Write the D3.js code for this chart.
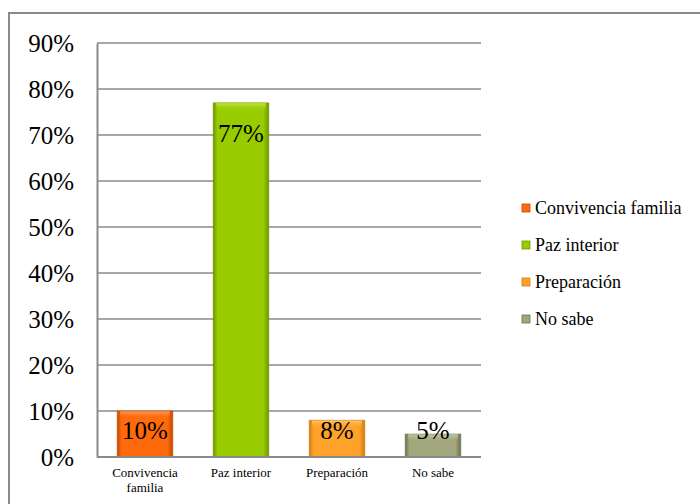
<!DOCTYPE html>
<html>
<head>
<meta charset="utf-8">
<script src="https://cdn.jsdelivr.net/npm/d3@7"></script>
<style>
  html, body { margin: 0; padding: 0; background: #fff; }
  svg { display: block; }
</style>
</head>
<body>
<svg id="chart" width="700" height="504"></svg>
<script>
// Categories and their shares
const categories = ["Convivencia familia", "Paz interior", "Preparación", "No sabe"];
const axisLabels = [["Convivencia", "familia"], ["Paz interior"], ["Preparación"], ["No sabe"]];
const values = [0.10, 0.77, 0.08, 0.05];
const valueLabels = ["10%", "77%", "8%", "5%"];
const yTicks = [0, 0.1, 0.2, 0.3, 0.4, 0.5, 0.6, 0.7, 0.8, 0.9];
const fills = ["#FF6A0C", "#99CC00", "#FFA22A", "#A2A67C"];
const edges = ["#C44A00", "#6E9600", "#D07A10", "#6E7250"];
const tops  = ["#FF9A5A", "#C2E84A", "#FFC870", "#C8CCA6"];

const SERIF = "'Liberation Serif', 'Times New Roman', serif";
const svg = d3.select("#chart");
const W = 700, H = 504;

// outer frame
svg.append("rect")
  .attr("x", 9).attr("y", 13)
  .attr("width", W + 10).attr("height", H + 10)
  .attr("fill", "#fff").attr("stroke", "#8a8a8a").attr("stroke-width", 2);

const plot = { left: 97, right: 481, top: 43, bottom: 457 };

const x = d3.scaleBand().domain(categories)
  .range([plot.left, plot.right]).paddingInner(0.42).paddingOuter(0.21);
const y = d3.scaleLinear().domain([0, 0.9]).range([plot.bottom, plot.top]);

// gradients for bevelled bars
const defs = svg.append("defs");
categories.forEach((c, i) => {
  const g = defs.append("linearGradient").attr("id", "side" + i)
    .attr("x1", 0).attr("x2", 1).attr("y1", 0).attr("y2", 0);
  g.append("stop").attr("offset", 0).attr("stop-color", edges[i]);
  g.append("stop").attr("offset", 0.08).attr("stop-color", fills[i]);
  g.append("stop").attr("offset", 0.9).attr("stop-color", fills[i]);
  g.append("stop").attr("offset", 1).attr("stop-color", edges[i]);
  const t = defs.append("linearGradient").attr("id", "top" + i)
    .attr("x1", 0).attr("x2", 0).attr("y1", 0).attr("y2", 1);
  t.append("stop").attr("offset", 0).attr("stop-color", tops[i]).attr("stop-opacity", 1);
  t.append("stop").attr("offset", 1).attr("stop-color", fills[i]).attr("stop-opacity", 0);
});

// gridlines
svg.append("g").selectAll("line").data(yTicks.slice(1)).join("line")
  .attr("x1", plot.left).attr("x2", plot.right)
  .attr("y1", d => y(d)).attr("y2", d => y(d))
  .attr("stroke", "#8a8a8a").attr("stroke-width", 1.3);

// y axis
const yAxis = d3.axisLeft(y).tickValues(yTicks).tickFormat(d3.format(".0%")).tickSize(0).tickPadding(23);
const gy = svg.append("g").attr("transform", `translate(${plot.left},0)`).call(yAxis);
gy.select(".domain").attr("stroke", "#8a8a8a").attr("stroke-width", 2);
gy.selectAll("text").style("font-size", "25px").style("font-family", SERIF).attr("fill", "#000");

// bars
const bars = svg.append("g").selectAll("g").data(categories).join("g");
bars.append("rect")
  .attr("x", d => x(d)).attr("width", x.bandwidth())
  .attr("y", (d, i) => y(values[i])).attr("height", (d, i) => y(0) - y(values[i]))
  .attr("fill", (d, i) => `url(#side${i})`);
bars.append("rect")
  .attr("x", d => x(d) + 3).attr("width", x.bandwidth() - 6)
  .attr("y", (d, i) => y(values[i])).attr("height", (d, i) => Math.min(8, y(0) - y(values[i])))
  .attr("fill", (d, i) => `url(#top${i})`);
bars.append("rect")
  .attr("x", d => x(d)).attr("width", x.bandwidth())
  .attr("y", (d, i) => y(values[i])).attr("height", (d, i) => y(0) - y(values[i]))
  .attr("fill", "none").attr("stroke", (d, i) => edges[i]).attr("stroke-opacity", 0.5).attr("stroke-width", 1);

// x axis baseline
svg.append("line")
  .attr("x1", plot.left).attr("x2", plot.right)
  .attr("y1", y(0)).attr("y2", y(0))
  .attr("stroke", "#8a8a8a").attr("stroke-width", 2);

// value labels
bars.append("text")
  .attr("x", d => x(d) + x.bandwidth() / 2)
  .attr("y", (d, i) => Math.min(y(values[i]) + 30, y(0) - 27))
  .attr("dy", "0.35em")
  .attr("text-anchor", "middle")
  .style("font-family", SERIF).style("font-size", "25px").attr("fill", "#000")
  .text((d, i) => valueLabels[i]);

// category labels
const xl = svg.append("g").selectAll("text").data(categories).join("text")
  .attr("x", d => x(d) + x.bandwidth() / 2)
  .attr("y", 477)
  .attr("text-anchor", "middle")
  .style("font-family", SERIF).style("font-size", "13px").attr("fill", "#000");
xl.selectAll("tspan").data((d, i) => axisLabels[i]).join("tspan")
  .attr("x", function () { return d3.select(this.parentNode).attr("x"); })
  .attr("dy", (d, j) => j === 0 ? 0 : 15)
  .text(d => d);

// legend
const legend = svg.append("g").selectAll("g").data(categories).join("g")
  .attr("transform", (d, i) => `translate(522, ${208 + i * 37})`);
legend.append("rect")
  .attr("x", 0).attr("y", -4).attr("width", 8).attr("height", 8)
  .attr("fill", (d, i) => fills[i]).attr("stroke", (d, i) => edges[i]).attr("stroke-width", 0.8);
legend.append("text")
  .attr("x", 13).attr("y", 0).attr("dy", "0.35em")
  .style("font-family", SERIF).style("font-size", "18px").attr("fill", "#000")
  .text(d => d);
</script>
</body>
</html>
